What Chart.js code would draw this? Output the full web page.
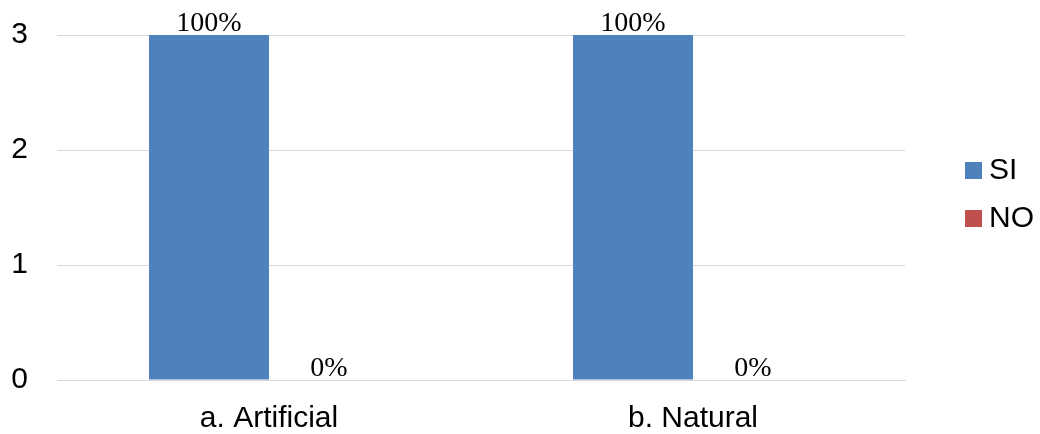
<!DOCTYPE html>
<html>
<head>
<meta charset="utf-8">
<script src="https://cdn.jsdelivr.net/npm/chart.js@4"></script>
<style>
  html, body { margin: 0; padding: 0; background: #fff; }
  #wrap { width: 1040px; height: 434px; position: relative; }
</style>
</head>
<body>
<div id="wrap"><canvas id="chart"></canvas></div>
<script>
// datos del gráfico
const categories = ['a. Artificial', 'b. Natural'];
const siValues = [3, 3];
const noValues = [0, 0];
const seriesNames = ['SI', 'NO'];
const seriesColors = ['#4F81BD', '#C0504D'];
const yTicks = [0, 1, 2, 3];

// etiquetas de porcentaje encima de cada barra
const pctLabels = {
    id: 'pctLabels',
    afterDatasetsDraw(chart) {
        const ctx = chart.ctx;
        ctx.save();
        ctx.font = '28px "Liberation Serif", serif';
        ctx.fillStyle = '#000';
        ctx.textAlign = 'center';
        ctx.textBaseline = 'alphabetic';
        chart.data.datasets.forEach((ds, di) => {
            const meta = chart.getDatasetMeta(di);
            meta.data.forEach((bar, i) => {
                const total = siValues[i] + noValues[i];
                const pct = total ? Math.round(ds.data[i] / total * 100) : 0;
                ctx.fillText(pct + '%', bar.x, bar.y - 4);
            });
        });
        ctx.restore();
    }
};

// leyenda a la derecha
const sideLegend = {
    id: 'sideLegend',
    afterDraw(chart) {
        const ctx = chart.ctx;
        ctx.save();
        ctx.font = '30px "Liberation Sans", Arial, sans-serif';
        ctx.textBaseline = 'middle';
        ctx.textAlign = 'left';
        chart.data.datasets.forEach((ds, i) => {
            const cy = 170 + i * 48;
            ctx.fillStyle = ds.backgroundColor;
            ctx.fillRect(965, cy - 8, 17, 17);
            ctx.fillStyle = '#000';
            ctx.fillText(ds.label, 989, cy + 1);
        });
        ctx.restore();
    }
};

new Chart(document.getElementById('chart'), {
    type: 'bar',
    data: {
        labels: categories,
        datasets: [
            { label: seriesNames[0], data: siValues, backgroundColor: seriesColors[0] },
            { label: seriesNames[1], data: noValues, backgroundColor: seriesColors[1] }
        ]
    },
    options: {
        responsive: true,
        maintainAspectRatio: false,
        animation: false,
        layout: { padding: { left: 0, right: 135, top: 35, bottom: 0 } },
        datasets: { bar: { categoryPercentage: 0.566, barPercentage: 1 } },
        plugins: {
            legend: { display: false },
            tooltip: { enabled: false }
        },
        scales: {
            x: {
                grid: { display: false, drawTicks: false },
                border: { color: '#d9d9d9', width: 1 },
                ticks: {
                    color: '#000',
                    padding: 21,
                    font: { family: '"Liberation Sans", Arial, sans-serif', size: 30 }
                },
                afterFit(scale) { scale.height = 54; }
            },
            y: {
                min: 0,
                max: 3,
                afterBuildTicks(scale) { scale.ticks = yTicks.map(v => ({ value: v })); },
                grid: { color: '#d9d9d9', drawTicks: false },
                border: { display: false },
                ticks: {
                    color: '#000',
                    padding: 29,
                    font: { family: '"Liberation Sans", Arial, sans-serif', size: 30 }
                },
                afterFit(scale) {
                    scale.width = 57;
                    scale.paddingTop = 0;
                    scale.paddingBottom = 0;
                }
            }
        }
    },
    plugins: [pctLabels, sideLegend]
});
</script>
</body>
</html>
